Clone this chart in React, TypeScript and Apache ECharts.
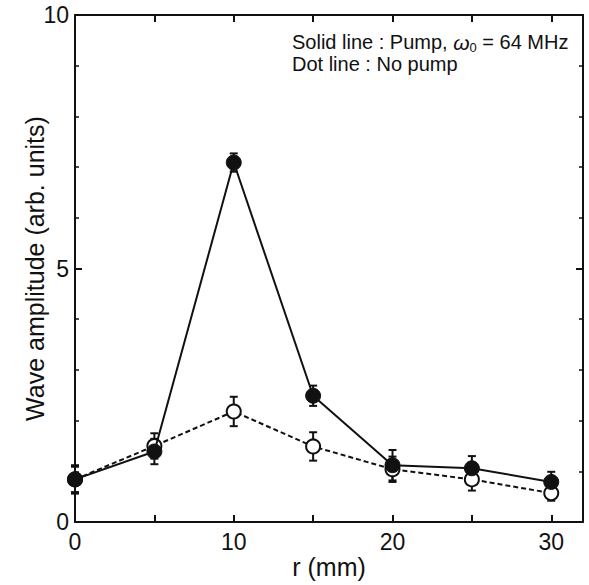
import React, { useEffect, useRef } from "react";
import * as echarts from "echarts";

const rValues = [0, 5, 10, 15, 20, 25, 30];
const pumpValues = [0.84, 1.39, 7.09, 2.49, 1.12, 1.06, 0.79];
const pumpErrors = [0.28, 0.25, 0.18, 0.2, 0.3, 0.24, 0.2];
const noPumpValues = [0.84, 1.5, 2.18, 1.49, 1.04, 0.84, 0.57];
const noPumpErrors = [0.25, 0.25, 0.29, 0.28, 0.25, 0.22, 0.15];
const yTickLabels = ["0", "5", "10"];
const xTickLabels = ["0", "10", "20", "30"];

const FONT = "Liberation Sans, Arial, Helvetica, sans-serif";
const INK = "#111";

function errorBarSeries(values: number[], errors: number[]) {
  return {
    type: "custom",
    silent: true,
    z: 1,
    data: rValues.map((r, i) => [r, values[i], errors[i]]),
    renderItem: (params: any, api: any) => {
      const x = api.value(0);
      const y = api.value(1);
      const e = api.value(2);
      const top = api.coord([x, y + e]);
      const bot = api.coord([x, y - e]);
      const cap = 4;
      const style = { stroke: INK, lineWidth: 2 };
      return {
        type: "group",
        children: [
          { type: "line", shape: { x1: top[0], y1: top[1], x2: bot[0], y2: bot[1] }, style },
          { type: "line", shape: { x1: top[0] - cap, y1: top[1], x2: top[0] + cap, y2: top[1] }, style },
          { type: "line", shape: { x1: bot[0] - cap, y1: bot[1], x2: bot[0] + cap, y2: bot[1] }, style },
        ],
      };
    },
  };
}

export default function App() {
  const ref = useRef<HTMLDivElement>(null);
  useEffect(() => {
    if (!ref.current) return;
    const chart = echarts.init(ref.current, undefined, { renderer: "svg" });
    const axisLine = { show: true, onZero: false, lineStyle: { color: INK, width: 2 } };
    const tick = { show: true, inside: true, length: 7, lineStyle: { color: INK, width: 2 } };
    const minor = { show: true, splitNumber: 5, length: 4, lineStyle: { color: INK, width: 1.5 } };
    const option: any = {
      animation: false,
      backgroundColor: "#fff",
      grid: { left: 75, right: 6, top: 15, bottom: 63, containLabel: false },
      xAxis: [
        {
          type: "value",
          min: 0,
          max: 32,
          interval: 5,
          position: "bottom",
          axisLine,
          axisTick: tick,
          axisLabel: {
            color: INK,
            fontFamily: FONT,
            fontSize: 23,
            margin: 8,
            formatter: (v: number) => (xTickLabels.includes(String(v)) ? String(v) : ""),
          },
          splitLine: { show: false },
          name: "r (mm)",
          nameLocation: "middle",
          nameGap: 32,
          nameMoveOverlap: false,
          nameTextStyle: { color: INK, fontFamily: FONT, fontSize: 25 },
        },
        {
          type: "value",
          min: 0,
          max: 32,
          interval: 5,
          position: "top",
          axisLine,
          axisTick: tick,
          axisLabel: { show: false },
          splitLine: { show: false },
        },
      ],
      yAxis: [
        {
          type: "value",
          min: 0,
          max: 10,
          interval: 5,
          position: "left",
          axisLine,
          axisTick: tick,
          minorTick: minor,
          axisLabel: {
            color: INK,
            fontFamily: FONT,
            fontSize: 23,
            margin: 6,
            formatter: (v: number) => (yTickLabels.includes(String(v)) ? String(v) : ""),
          },
          splitLine: { show: false },
          name: "Wave amplitude (arb. units)",
          nameLocation: "middle",
          nameGap: 28,
          nameMoveOverlap: false,
          nameRotate: 90,
          nameTextStyle: { color: INK, fontFamily: FONT, fontSize: 25 },
        },
        {
          type: "value",
          min: 0,
          max: 10,
          interval: 5,
          position: "right",
          axisLine,
          axisTick: tick,
          minorTick: minor,
          axisLabel: { show: false },
          splitLine: { show: false },
        },
      ],
      series: [
        errorBarSeries(noPumpValues, noPumpErrors),
        errorBarSeries(pumpValues, pumpErrors),
        {
          name: "No pump",
          type: "line",
          z: 2,
          data: rValues.map((r, i) => [r, noPumpValues[i]]),
          symbol: "circle",
          symbolSize: 14,
          itemStyle: { color: "#fff", borderColor: INK, borderWidth: 2 },
          lineStyle: { color: INK, width: 2, type: [5, 3] },
        },
        {
          name: "Pump",
          type: "line",
          z: 3,
          data: rValues.map((r, i) => [r, pumpValues[i]]),
          symbol: "circle",
          symbolSize: 15,
          itemStyle: { color: INK, borderColor: INK, borderWidth: 1 },
          lineStyle: { color: INK, width: 2 },
        },
      ],
      graphic: [
        {
          type: "text",
          x: 292,
          y: 42,
          style: {
            text: "{a|Solid line : Pump, }{w|ω}{s|0}{a| = 64 MHz}",
            align: "left",
            verticalAlign: "middle",
            rich: {
              a: { fontFamily: FONT, fontSize: 20, fill: INK },
              w: { fontFamily: FONT, fontSize: 21, fill: INK, fontStyle: "italic" },
              s: { fontFamily: FONT, fontSize: 13, fill: INK, verticalAlign: "bottom", padding: [10, 0, 0, 0] },
            },
          },
        },
        {
          type: "text",
          x: 292,
          y: 64,
          style: {
            text: "Dot line : No pump",
            align: "left",
            verticalAlign: "middle",
            fontFamily: FONT,
            fontSize: 20,
            fill: INK,
          },
        },
      ],
    };
    chart.setOption(option);
    return () => chart.dispose();
  }, []);
  return (
    <div
      ref={ref}
      style={{ position: "fixed", left: 0, top: 0, width: 589, height: 585, background: "#fff" }}
    />
  );
}
